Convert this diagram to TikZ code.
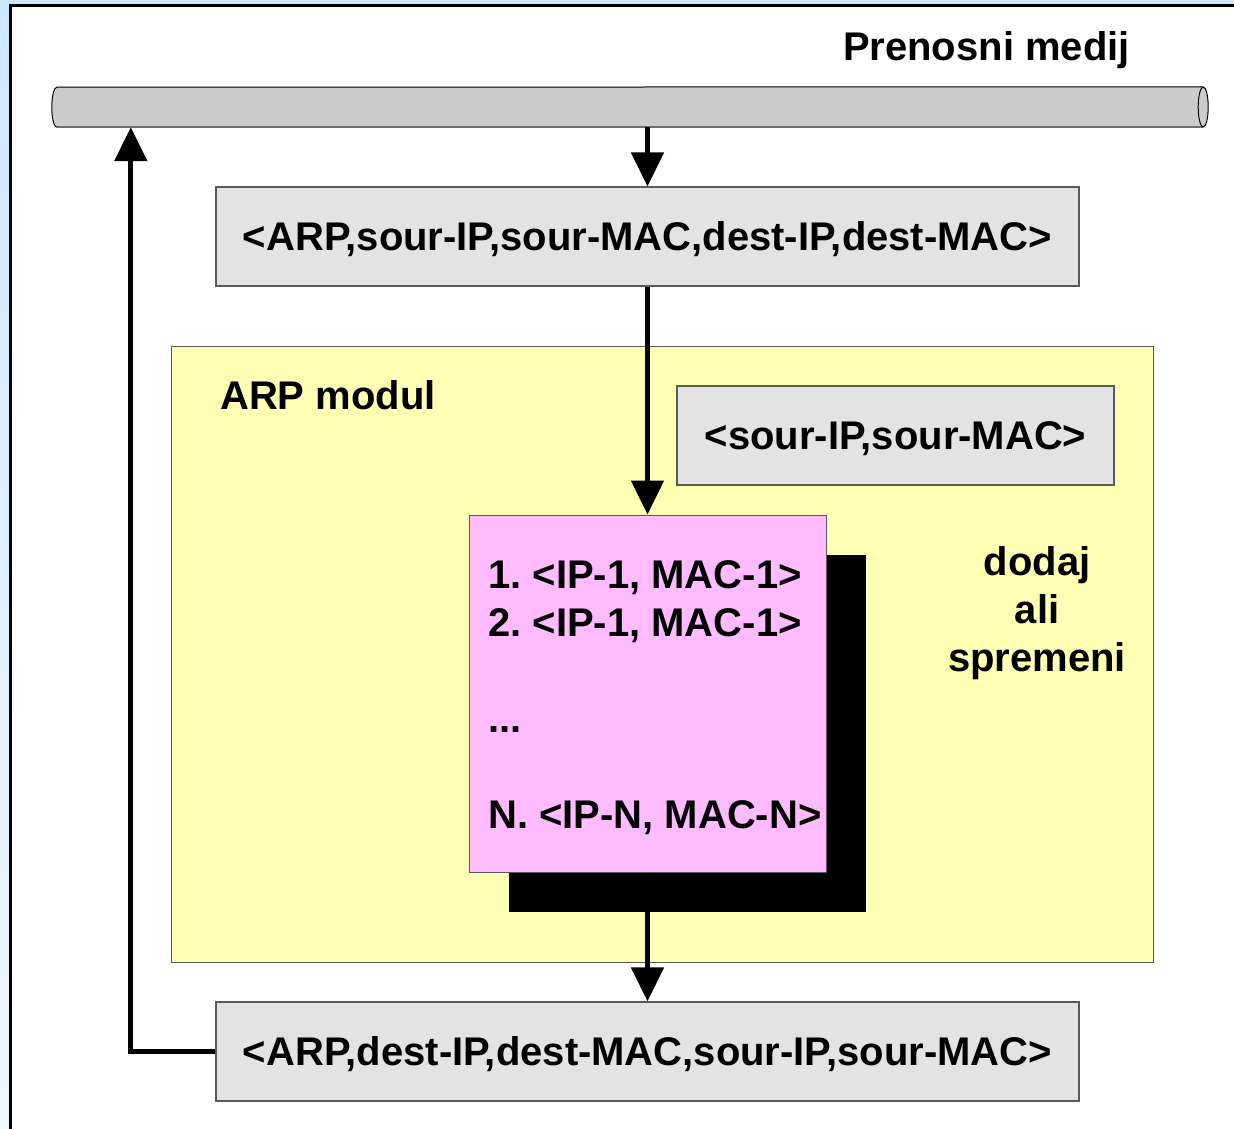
\documentclass[tikz,border=0pt]{standalone}
\usepackage{fontspec}
\setmainfont{Liberation Sans}
\usetikzlibrary{arrows.meta,shadows}

\definecolor{bgblue}{RGB}{204,232,255}
\definecolor{bgpale}{RGB}{238,247,255}
\definecolor{boxgray}{RGB}{227,227,227}
\definecolor{boxline}{RGB}{90,90,90}
\definecolor{cylgray}{RGB}{204,204,204}
\definecolor{cylshade}{RGB}{110,110,110}
\definecolor{modyellow}{RGB}{255,255,179}
\definecolor{tabpink}{RGB}{255,187,255}

\begin{document}
\frenchspacing
\begin{tikzpicture}[x=1pt,y=-1pt,
  font=\fontsize{40}{48}\selectfont\bfseries,
  box/.style={draw=boxline, line width=1.2pt, fill=boxgray, inner sep=0pt,
    text height=28.7pt, text depth=0pt},
  txt/.style={inner sep=0pt},
  flow/.style={line width=5pt, -{Triangle[length=34pt,width=32pt]}}]

% page and frame
\clip (0,0) rectangle (1234,1128);
\shade[top color=bgblue, bottom color=bgpale] (0,0) rectangle (1234,1128);
\draw[line width=3pt, fill=white] (10.5,5.5) rectangle (1260,1160);

% transmission medium (horizontal cylinder)
\node[minimum width=1146pt, minimum height=40pt, inner sep=0pt] (medij) at (630,107) {};
\fill[cylgray] (medij.north west) -- (medij.north east)
  arc[start angle=90, end angle=-90, x radius=5pt, y radius=20pt]
  -- (medij.south west)
  arc[start angle=270, end angle=90, x radius=5pt, y radius=20pt] -- cycle;
\draw[line width=2.5pt, cylshade] (medij.south west) -- (medij.south east);
\draw[line width=1pt] (medij.south west)
  arc[start angle=270, end angle=90, x radius=5pt, y radius=20pt]
  -- (medij.north east);
\draw[line width=1pt, fill=cylgray] (medij.east) ellipse[x radius=5pt, y radius=20pt];
\node[txt, anchor=base east] (lblmedij) at (1130,60) {Prenosni medij};

% incoming frame
\node[box, minimum width=863pt, minimum height=99pt] (req) at (647.5,236.5)
  {<ARP,sour-IP,sour-MAC,dest-IP,dest-MAC>};

% ARP module area
\node[draw=boxline, line width=1pt, fill=modyellow, minimum width=982pt,
  minimum height=616pt, inner sep=0pt] (modul) at (662,654) {};
\node[txt, anchor=base west] (lblmodul) at (220,409) {ARP modul};
\node[box, minimum width=437pt, minimum height=99pt] (src) at (895.5,435.5)
  {<sour-IP,sour-MAC>};

% ARP table with its shadow
\node[draw=boxline, line width=1pt, fill=tabpink, minimum width=357pt,
  minimum height=357pt, inner sep=0pt,
  drop shadow={shadow xshift=40pt, shadow yshift=-40pt, fill=black, opacity=1}]
  (table) at (647.5,693.5) {};
\node[txt, anchor=base west] (row1) at (488,588) {1. <IP-1, MAC-1>};
\node[txt, anchor=base west] (row2) at (488,636) {2. <IP-1, MAC-1>};
\node[txt, anchor=base west] (rowdots) at (488,732) {...};
\node[txt, anchor=base west] (rowN) at (488,828) {N. <IP-N, MAC-N>};

\node[txt, anchor=base] (act1) at (1037,575) {dodaj};
\node[txt, anchor=base] (act2) at (1037,623) {ali};
\node[txt, anchor=base] (act3) at (1037,671) {spremeni};

% outgoing reply
\node[box, minimum width=863pt, minimum height=99pt] (rep) at (647.5,1051.5)
  {<ARP,dest-IP,dest-MAC,sour-IP,sour-MAC>};

% connectors
\draw[flow] (req.north |- medij.south) -- (req.north);
\draw[flow] (req.south) -- (table.north);
\draw[flow] (table.south) -- (rep.north);
\draw[flow] (rep.west) -| ([xshift=74pt]medij.south west);
\end{tikzpicture}
\end{document}
